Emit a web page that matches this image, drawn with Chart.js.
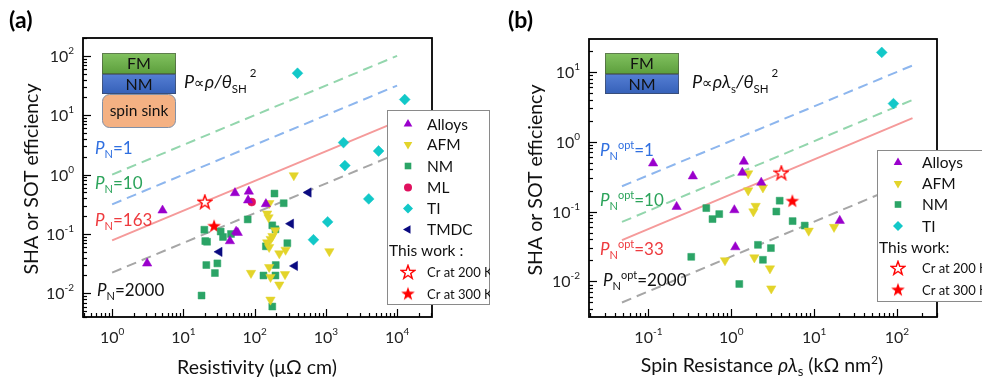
<!DOCTYPE html>
<html>
<head>
<meta charset="utf-8">
<script src="https://cdn.jsdelivr.net/npm/chart.js@4.4.0/dist/chart.umd.min.js"></script>
<style>
  body { margin: 0; background: #fff; width: 982px; height: 384px; overflow: hidden; }
  .panel { position: absolute; top: 0; height: 384px; }
  #pa { left: 0; width: 490px; }
  #pb { left: 490px; width: 492px; }
</style>
</head>
<body>
<div class="panel" id="pa"><canvas id="ca" width="490" height="384"></canvas></div>
<div class="panel" id="pb"><canvas id="cb" width="492" height="384"></canvas></div>
<script>
// ---- panel (a): resistivity (uOhm cm) vs SHA / SOT efficiency ----
const alloysRhoA = [3.1, 5.1, 53, 83, 81, 144, 55, 58, 45]
const alloysShaA = [0.032, 0.25, 0.49, 0.52, 0.37, 0.32, 0.11, 0.105, 0.076]
const afmRhoA = [355, 161, 150, 157, 195, 178, 168, 150, 160, 222, 272, 89, 160, 167, 222, 267, 167, 1120]
const afmShaA = [0.97, 0.33, 0.22, 0.19, 0.115, 0.092, 0.082, 0.072, 0.060, 0.047, 0.054, 0.022, 0.0276, 0.0188, 0.014, 0.021, 0.0078, 0.051]
const nmRhoA = [19.7, 20.3, 21.5, 33.4, 36, 46.6, 30, 21, 27.7, 18, 80, 190, 256, 177, 196, 144, 288, 198, 133, 196, 177]
const nmShaA = [0.118, 0.076, 0.074, 0.11, 0.089, 0.10, 0.032, 0.030, 0.022, 0.0092, 0.176, 0.48, 0.33, 0.14, 0.12, 0.062, 0.070, 0.030, 0.020, 0.020, 0.006]
const mlRhoA = [91]
const mlShaA = [0.345]
const tiRhoA = [400, 12800, 1770, 1850, 5500, 4000, 1060, 670]
const tiShaA = [51, 18.4, 3.46, 1.42, 2.5, 0.39, 0.16, 0.080]
const tmdcRhoA = [570, 323, 367, 32]
const tmdcShaA = [0.50, 0.149, 0.029, 0.050]
const cr200A = [20, 0.35]
const cr300A = [27, 0.138]
// guide lines P_N (two end points each)
const guideRhoA = [1, 10000]
const guideGreenA = [1, 100]
const guideBlueA = [0.316, 31.6]
const guideRedA = [0.078, 7.8]
const guideGrayA = [0.0224, 2.24]

// ---- panel (b): spin resistance (kOhm nm^2) vs SHA / SOT efficiency ----
const alloysRlB = [0.114, 0.344, 0.219, 1.42, 1.36, 2.3, 1.09, 1.12, 20.4]
const alloysShaB = [0.49, 0.32, 0.117, 0.52, 0.36, 0.26, 0.105, 0.031, 0.074]
const afmRlB = [1.60, 1.60, 2.41, 1.97, 1.85, 8.6, 17.4, 0.84, 1.90, 2.93, 3.04]
const afmShaB = [0.35, 0.20, 0.22, 0.12, 0.10, 0.053, 0.060, 0.020, 0.022, 0.0153, 0.0079]
const nmRlB = [0.50, 0.594, 0.716, 3.5, 3.84, 5.5, 7.7, 0.329, 2.10, 3.01, 2.41, 1.25]
const nmShaB = [0.112, 0.078, 0.092, 0.10, 0.143, 0.073, 0.063, 0.0225, 0.0334, 0.030, 0.0204, 0.0092]
const tiRlB = [65.5, 90.6]
const tiShaB = [18.9, 3.5]
const cr200B = [4.02, 0.36]
const cr300B = [5.46, 0.143]
const guideRlB = [0.048, 154]
const guideBlueB = [0.23, 12.3]
const guideGreenB = [0.071, 3.95]
const guideRedB = [0.039, 2.17]
const guideGrayB = [0.0050, 0.28]

const FONT = 'Lato, "Open Sans", "DejaVu Sans", sans-serif'
const fnt = (size, italic, bold) => (italic ? 'italic ' : '') + (bold ? 'bold ' : '') + size + 'px ' + FONT

const C = {
  alloys: '#9a00cc', afm: '#e3d42a', nm: '#2ba466', ml: '#e0105e',
  ti: '#12c8c8', tmdc: '#0a0a80', star: '#ff0000',
  lblue: '#2f6fe0', lgreen: '#2ba35a', lred: '#ee3a3e'
}

function makeStar(filled) {
  const c = document.createElement('canvas')
  c.width = 16; c.height = 16
  const g = c.getContext('2d')
  g.beginPath()
  for (let i = 0; i < 10; i++) {
    const r = i % 2 ? 2.9 : 7.2
    const a = -Math.PI / 2 + i * Math.PI / 5
    g.lineTo(8 + r * Math.cos(a), 8.6 + r * Math.sin(a))
  }
  g.closePath()
  if (filled) { g.fillStyle = C.star; g.fill() }
  else { g.fillStyle = '#fff'; g.fill(); g.lineWidth = 1.4; g.strokeStyle = C.star; g.stroke() }
  return c
}
const starOpen = makeStar(false)
const starFull = makeStar(true)

const pts = (xs, ys) => xs.map((v, i) => ({ x: v, y: ys[i] }))

function pointSet(label, xs, ys, color, style, radius, rot) {
  return {
    label, data: pts(xs, ys), pointStyle: style, pointRadius: radius, pointRotation: rot || 0,
    backgroundColor: color, borderColor: color, pointBorderWidth: 0.5, order: 0
  }
}
function guide(xs, ys, color, dash) {
  return {
    data: pts(xs, ys), showLine: true, pointRadius: 0, borderColor: color, borderWidth: 2,
    borderDash: dash, fill: false, order: 10
  }
}

// rich text: parts = [text, size, italic, dy]
function rich(ctx, x, y, parts, color, align) {
  let w = 0
  parts.forEach(p => { ctx.font = fnt(p[1], p[2]); w += ctx.measureText(p[0]).width })
  let cx = align === 'right' ? x - w : align === 'center' ? x - w / 2 : x
  ctx.fillStyle = color
  ctx.textAlign = 'left'
  ctx.textBaseline = 'alphabetic'
  parts.forEach(p => {
    ctx.font = fnt(p[1], p[2])
    ctx.fillText(p[0], cx, y + (p[3] || 0))
    cx += ctx.measureText(p[0]).width
  })
}

function marker(ctx, kind, x, y, color) {
  ctx.save()
  ctx.fillStyle = color
  ctx.beginPath()
  if (kind === 'circle') {
    ctx.arc(x, y, 4, 0, Math.PI * 2)
  } else if (kind === 'rect') {
    ctx.rect(x - 3.3, y - 3.3, 6.6, 6.6)
  } else if (kind === 'diamond') {
    ctx.moveTo(x, y - 5); ctx.lineTo(x + 5, y); ctx.lineTo(x, y + 5); ctx.lineTo(x - 5, y)
  } else {
    let a = { up: 0, down: Math.PI, left: -Math.PI / 2 }[kind]
    const r = 5
    for (let i = 0; i < 3; i++) {
      ctx.lineTo(x + Math.sin(a) * r, y - Math.cos(a) * r)
      a += Math.PI * 2 / 3
    }
  }
  ctx.closePath()
  ctx.fill()
  ctx.restore()
}

function axesPlugin(cfg) {
  return {
    id: 'decor',
    afterDraw(chart) {
      const { ctx, chartArea: a, scales: { x, y } } = chart
      ctx.save()
      // frame
      ctx.strokeStyle = '#000'
      ctx.lineWidth = 1.8
      ctx.strokeRect(a.left, a.top, a.right - a.left, a.bottom - a.top)
      // inward log ticks
      ctx.lineWidth = 1.2
      const ticks = (scale, horiz) => {
        const lo = Math.floor(Math.log10(scale.min)), hi = Math.ceil(Math.log10(scale.max))
        for (let d = lo; d <= hi; d++) {
          for (let m = 1; m < 10; m++) {
            const v = m * Math.pow(10, d)
            if (v < scale.min || v > scale.max) continue
            const p = Math.round(scale.getPixelForValue(v)) + 0.5
            const len = m === 1 ? 8 : 4
            ctx.beginPath()
            if (horiz) { ctx.moveTo(p, a.bottom); ctx.lineTo(p, a.bottom - len) }
            else { ctx.moveTo(a.left, p); ctx.lineTo(a.left + len, p) }
            ctx.stroke()
          }
        }
      }
      ticks(x, true)
      ticks(y, false)
      // tick labels 10^n
      cfg.xExp.forEach(e => {
        const p = x.getPixelForValue(Math.pow(10, e))
        rich(ctx, p, 343, [['10', 16], [String(e), 10, false, -8]], '#222', 'center')
      })
      cfg.yExp.forEach(e => {
        const p = y.getPixelForValue(Math.pow(10, e))
        rich(ctx, a.left - 9, p + 6, [['10', 16], [String(e), 10, false, -8]], '#222', 'right')
      })
      // axis titles
      rich(ctx, cfg.xTitleX, cfg.xTitleY, cfg.xTitle, '#111', 'center')
      ctx.save()
      ctx.translate(cfg.yTitleX, cfg.yTitleY)
      ctx.rotate(-Math.PI / 2)
      rich(ctx, 0, 7, [['SHA or SOT efficiency', 19.5]], '#111', 'center')
      ctx.restore()
      // panel tag
      ctx.font = fnt(23, false, true)
      ctx.fillStyle = '#000'
      ctx.textAlign = 'left'
      ctx.fillText(cfg.tag, cfg.tagX, 28)
      // layer stack inset
      const bx = cfg.inset.x, bw = 74
      const box = (top, h, c1, c2, text) => {
        const g = ctx.createLinearGradient(0, top, 0, top + h)
        g.addColorStop(0, c1); g.addColorStop(1, c2)
        ctx.fillStyle = g
        ctx.fillRect(bx, top, bw, h)
        ctx.strokeStyle = 'rgba(60,60,60,0.5)'
        ctx.lineWidth = 1
        ctx.strokeRect(bx + 0.5, top + 0.5, bw - 1, h - 1)
        rich(ctx, bx + bw / 2, top + h / 2 + 5.5, [[text, 16]], '#111', 'center')
      }
      box(53, 21, '#82c260', '#5c9e3c', 'FM')
      box(74, 20, '#557fd4', '#3560b8', 'NM')
      if (cfg.inset.sink) {
        ctx.beginPath()
        ctx.roundRect(bx + 0.5, 94.5, bw - 1, 33, 7)
        ctx.fillStyle = '#f4b183'
        ctx.fill()
        ctx.strokeStyle = '#8090a8'
        ctx.stroke()
        rich(ctx, bx + bw / 2, 116, [['spin sink', 15.5]], '#111', 'center')
      }
      rich(ctx, cfg.formulaX, 88, cfg.formula, '#111', 'left')
      // guide labels
      cfg.labels.forEach(l => rich(ctx, l.x, l.y, l.parts, l.color, 'left'))
      // legend
      const L = cfg.legend
      ctx.fillStyle = '#fff'
      ctx.fillRect(L.x, L.top, L.w, L.h)
      ctx.strokeStyle = '#8a8a8a'
      ctx.lineWidth = 1
      ctx.strokeRect(L.x + 0.5, L.top + 0.5, L.w, L.h)
      L.rows.forEach(r => {
        if (r.kind === 'head') {
          rich(ctx, L.x + 2, r.y + 5, [[r.text, 15.5]], '#111', 'left')
          return
        }
        if (r.kind === 'star0' || r.kind === 'star1') {
          const img = r.kind === 'star0' ? starOpen : starFull
          ctx.drawImage(img, L.mx - 8, r.y - 8.6)
        } else {
          marker(ctx, r.kind, L.mx, r.y, r.color)
        }
        rich(ctx, L.tx, r.y + (r.small ? 4.5 : 5.5), [[r.text, r.small ? 13 : 15.5]], '#111', 'left')
      })
      ctx.restore()
    }
  }
}

function baseOptions(xmin, xmax, ymin, ymax, pad) {
  return {
    responsive: false,
    animation: false,
    events: [],
    layout: { padding: pad },
    plugins: { legend: { display: false }, tooltip: { enabled: false } },
    scales: {
      x: { type: 'logarithmic', min: xmin, max: xmax, display: false },
      y: { type: 'logarithmic', min: ymin, max: ymax, display: false }
    }
  }
}

const PN = (num, opt) => opt
  ? [['P', 17, true], ['N', 11, false, 4], ['opt', 11, false, -7], ['=' + num, 17]]
  : [['P', 17, true], ['N', 11, false, 4], ['=' + num, 17]]

// chart (a)
new Chart(document.getElementById('ca'), {
  type: 'scatter',
  data: {
    datasets: [
      pointSet('Alloys', alloysRhoA, alloysShaA, C.alloys, 'triangle', 5.4),
      pointSet('AFM', afmRhoA, afmShaA, C.afm, 'triangle', 5.4, 180),
      pointSet('NM', nmRhoA, nmShaA, C.nm, 'rect', 4.9),
      pointSet('ML', mlRhoA, mlShaA, C.ml, 'circle', 4),
      pointSet('TI', tiRhoA, tiShaA, C.ti, 'rectRot', 5.4),
      pointSet('TMDC', tmdcRhoA, tmdcShaA, C.tmdc, 'triangle', 5.4, 270),
      { data: [{ x: cr200A[0], y: cr200A[1] }], pointStyle: starOpen, order: 0 },
      { data: [{ x: cr300A[0], y: cr300A[1] }], pointStyle: starFull, order: 0 },
      guide(guideRhoA, guideGreenA, '#93d6ad', [10, 6]),
      guide(guideRhoA, guideBlueA, '#8db6ee', [10, 6]),
      guide(guideRhoA, guideRedA, '#f59a9a', []),
      guide(guideRhoA, guideGrayA, '#a6a6a6', [10, 6])
    ]
  },
  options: baseOptions(0.39, 30900, 0.004, 200, { left: 83, top: 38, right: 58, bottom: 67 }),
  plugins: [axesPlugin({
    tag: '(a)', tagX: 9,
    xExp: [0, 1, 2, 3, 4], yExp: [-2, -1, 0, 1, 2],
    xTitle: [['Resistivity (μΩ cm)', 19.5]], xTitleX: 257, xTitleY: 374,
    yTitleX: 31, yTitleY: 179,
    inset: { x: 102, sink: true },
    formulaX: 184,
    formula: [['P', 18, true], ['∝', 15], ['ρ', 18, true], ['/', 18, true], ['θ', 18, true], ['SH', 11.5, false, 5], [' 2', 11.5, false, -11]],
    labels: [
      { x: 95, y: 154, color: C.lblue, parts: PN(1) },
      { x: 95, y: 189, color: C.lgreen, parts: PN(10) },
      { x: 95, y: 226, color: C.lred, parts: PN(163) },
      { x: 97, y: 296, color: '#111', parts: PN(2000) }
    ],
    legend: {
      x: 387, top: 110, w: 102, h: 194, mx: 408, tx: 427,
      rows: [
        { kind: 'up', color: C.alloys, text: 'Alloys', y: 124 },
        { kind: 'down', color: C.afm, text: 'AFM', y: 144.5 },
        { kind: 'rect', color: C.nm, text: 'NM', y: 166 },
        { kind: 'circle', color: C.ml, text: 'ML', y: 187.5 },
        { kind: 'diamond', color: C.ti, text: 'TI', y: 208.5 },
        { kind: 'left', color: C.tmdc, text: 'TMDC', y: 229.5 },
        { kind: 'head', text: 'This work :', y: 250.5 },
        { kind: 'star0', text: 'Cr at 200 K', y: 272.5, small: true },
        { kind: 'star1', text: 'Cr at 300 K', y: 294, small: true }
      ]
    }
  })]
})

// chart (b)
new Chart(document.getElementById('cb'), {
  type: 'scatter',
  data: {
    datasets: [
      pointSet('Alloys', alloysRlB, alloysShaB, C.alloys, 'triangle', 5.4),
      pointSet('AFM', afmRlB, afmShaB, C.afm, 'triangle', 5.4, 180),
      pointSet('NM', nmRlB, nmShaB, C.nm, 'rect', 4.9),
      pointSet('TI', tiRlB, tiShaB, C.ti, 'rectRot', 5.4),
      { data: [{ x: cr200B[0], y: cr200B[1] }], pointStyle: starOpen, order: 0 },
      { data: [{ x: cr300B[0], y: cr300B[1] }], pointStyle: starFull, order: 0 },
      guide(guideRlB, guideBlueB, '#8db6ee', [10, 6]),
      guide(guideRlB, guideGreenB, '#93d6ad', [10, 6]),
      guide(guideRlB, guideRedB, '#f59a9a', []),
      guide(guideRlB, guideGrayB, '#a6a6a6', [10, 6])
    ]
  },
  options: baseOptions(0.0192, 304, 0.0031, 29.4, { left: 99, top: 39, right: 45, bottom: 67 }),
  plugins: [axesPlugin({
    tag: '(b)', tagX: 18,
    xExp: [-1, 0, 1, 2], yExp: [-2, -1, 0, 1],
    xTitle: [['Spin Resistance ', 19.5], ['ρλ', 19.5, true], ['s', 13, false, 4], [' (kΩ nm', 19.5], ['2', 12, false, -8], [')', 19.5]],
    xTitleX: 272, xTitleY: 372,
    yTitleX: 45, yTitleY: 180,
    inset: { x: 115, sink: false },
    formulaX: 202,
    formula: [['P', 18, true], ['∝', 15], ['ρλ', 18, true], ['s', 11.5, false, 5], ['/', 18, true], ['θ', 18, true], ['SH', 11.5, false, 5], [' 2', 11.5, false, -11]],
    labels: [
      { x: 110, y: 156, color: C.lblue, parts: PN(1, true) },
      { x: 110, y: 205.5, color: C.lgreen, parts: PN(10, true) },
      { x: 110, y: 255, color: C.lred, parts: PN(33, true) },
      { x: 113, y: 286, color: '#111', parts: PN(2000, true) }
    ],
    legend: {
      x: 387, top: 150, w: 120, h: 151, mx: 408, tx: 432,
      rows: [
        { kind: 'up', color: C.alloys, text: 'Alloys', y: 162.5 },
        { kind: 'down', color: C.afm, text: 'AFM', y: 183.5 },
        { kind: 'rect', color: C.nm, text: 'NM', y: 204.5 },
        { kind: 'diamond', color: C.ti, text: 'TI', y: 226 },
        { kind: 'head', text: 'This work:', y: 247.5 },
        { kind: 'star0', text: 'Cr at 200 K', y: 268.5, small: true },
        { kind: 'star1', text: 'Cr at 300 K', y: 290, small: true }
      ]
    }
  })]
})
</script>
</body>
</html>
